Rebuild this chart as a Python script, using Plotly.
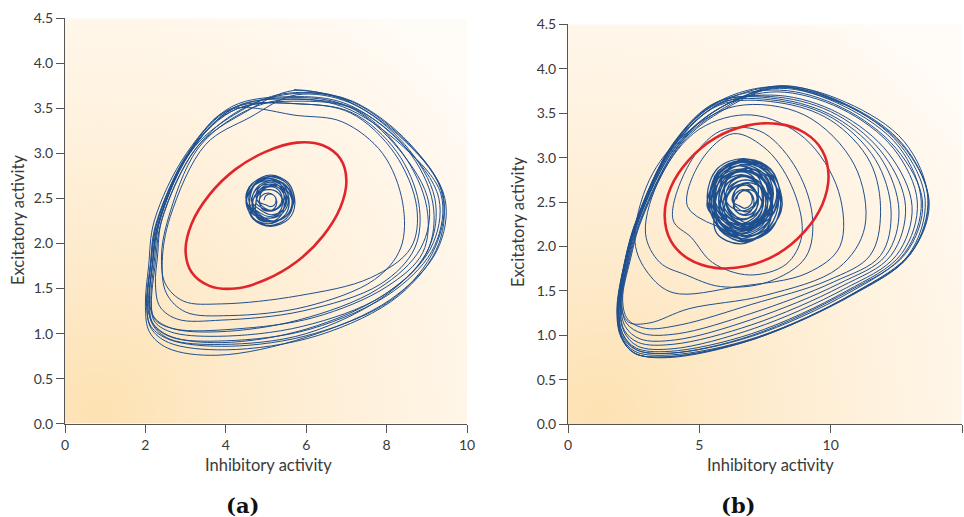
import base64
import plotly.graph_objects as go

# ---------------- data ----------------
y_ticks = [0.0, 0.5, 1.0, 1.5, 2.0, 2.5, 3.0, 3.5, 4.0, 4.5]
a_x_ticks = [0, 2, 4, 6, 8, 10]
b_x_ticks = [0, 5, 10, 15]

# panel (a): unstable cycle (red)
a_unstable = [(7.00, 2.70), (6.85, 2.40), (6.41, 2.08), (5.77, 1.80), (5.00, 1.60), (4.23, 1.50),
              (3.59, 1.53), (3.15, 1.68), (3.00, 1.92), (3.15, 2.22), (3.59, 2.54), (4.23, 2.82),
              (5.00, 3.02), (5.77, 3.12), (6.41, 3.09), (6.85, 2.94), (7.00, 2.70)]

# panel (a): stable focus tangle
a_focus = [
    [(4.95, 2.48), (4.99, 2.53), (5.10, 2.55), (5.21, 2.53), (5.25, 2.48), (5.21, 2.43), (5.10, 2.41), (4.99, 2.43)],
    [(4.83, 2.46), (4.89, 2.53), (5.05, 2.56), (5.21, 2.53), (5.27, 2.46), (5.21, 2.39), (5.05, 2.36), (4.89, 2.39)],
    [(4.84, 2.50), (4.92, 2.59), (5.12, 2.63), (5.32, 2.59), (5.40, 2.50), (5.32, 2.41), (5.12, 2.37), (4.92, 2.41)],
    [(4.75, 2.52), (4.85, 2.63), (5.10, 2.68), (5.35, 2.63), (5.45, 2.52), (5.35, 2.41), (5.10, 2.36), (4.85, 2.41)],
    [(4.75, 2.45), (4.85, 2.56), (5.08, 2.60), (5.31, 2.56), (5.41, 2.45), (5.31, 2.34), (5.08, 2.30), (4.85, 2.34)],
    [(4.65, 2.42), (4.77, 2.55), (5.05, 2.60), (5.33, 2.55), (5.45, 2.42), (5.33, 2.29), (5.05, 2.24), (4.77, 2.29)],
    [(4.76, 2.49), (4.87, 2.61), (5.14, 2.66), (5.41, 2.61), (5.52, 2.49), (5.41, 2.37), (5.14, 2.32), (4.87, 2.37)],
    [(4.64, 2.47), (4.76, 2.60), (5.06, 2.66), (5.36, 2.60), (5.48, 2.47), (5.36, 2.34), (5.06, 2.28), (4.76, 2.34)],
    [(4.75, 2.45), (4.88, 2.59), (5.20, 2.65), (5.52, 2.59), (5.65, 2.45), (5.52, 2.31), (5.20, 2.25), (4.88, 2.31)],
    [(4.67, 2.44), (4.80, 2.58), (5.12, 2.64), (5.44, 2.58), (5.57, 2.44), (5.44, 2.30), (5.12, 2.24), (4.80, 2.30)],
    [(4.50, 2.50), (4.64, 2.66), (5.00, 2.72), (5.36, 2.66), (5.50, 2.50), (5.36, 2.34), (5.00, 2.28), (4.64, 2.34)],
    [(4.60, 2.50), (4.74, 2.66), (5.08, 2.72), (5.42, 2.66), (5.56, 2.50), (5.42, 2.34), (5.08, 2.28), (4.74, 2.34)],
    [(4.65, 2.47), (4.79, 2.63), (5.15, 2.70), (5.51, 2.63), (5.65, 2.47), (5.51, 2.31), (5.15, 2.24), (4.79, 2.31)],
    [(4.52, 2.46), (4.67, 2.63), (5.05, 2.70), (5.43, 2.63), (5.58, 2.46), (5.43, 2.29), (5.05, 2.22), (4.67, 2.29)],
    [(4.60, 2.50), (4.76, 2.68), (5.15, 2.75), (5.54, 2.68), (5.70, 2.50), (5.54, 2.32), (5.15, 2.25), (4.76, 2.32)],
    [(4.57, 2.49), (4.73, 2.67), (5.12, 2.74), (5.51, 2.67), (5.67, 2.49), (5.51, 2.31), (5.12, 2.24), (4.73, 2.31)],
    [(4.52, 2.46), (4.69, 2.64), (5.10, 2.72), (5.51, 2.64), (5.68, 2.46), (5.51, 2.28), (5.10, 2.20), (4.69, 2.28)],
    [(4.50, 2.47), (4.68, 2.67), (5.12, 2.76), (5.56, 2.67), (5.72, 2.45), (5.56, 2.27), (5.12, 2.19), (4.68, 2.27), (4.50, 2.47)],
]

# panel (a): stable limit cycle loops (each starts at its top)
a_cycle = [
    [(5.70, 3.71), (7.15, 3.58), (8.55, 3.12), (9.45, 2.50), (9.25, 1.92), (8.10, 1.38), (6.00, 0.96), (3.80, 0.76), (2.55, 0.84), (2.10, 1.02), (2.00, 1.30), (2.08, 1.75), (2.22, 2.25), (3.02, 3.00), (4.15, 3.52)],
    [(5.60, 3.63), (7.00, 3.55), (8.40, 3.10), (9.30, 2.50), (9.10, 1.95), (8.00, 1.45), (6.00, 1.05), (3.90, 0.90), (2.62, 0.97), (2.18, 1.12), (2.05, 1.33), (2.14, 1.77), (2.30, 2.25), (3.10, 3.02), (4.20, 3.50)],
    [(5.70, 3.62), (7.05, 3.52), (8.30, 3.05), (9.05, 2.45), (8.85, 1.95), (7.80, 1.50), (5.80, 1.15), (3.80, 1.02), (2.65, 1.06), (2.22, 1.18), (2.10, 1.36), (2.18, 1.78), (2.32, 2.22), (3.15, 3.05), (4.30, 3.50)],
    [(5.80, 3.55), (7.10, 3.45), (8.20, 3.00), (8.75, 2.40), (8.60, 1.95), (7.60, 1.62), (5.80, 1.42), (3.90, 1.33), (2.95, 1.36), (2.50, 1.55), (2.40, 1.85), (2.55, 2.25), (3.30, 3.05), (4.40, 3.45)],
    [(5.50, 3.60), (6.90, 3.52), (8.35, 3.10), (9.35, 2.55), (9.20, 1.98), (8.20, 1.48), (6.10, 1.05), (4.00, 0.92), (2.65, 0.96), (2.20, 1.10), (2.10, 1.32), (2.17, 1.76), (2.30, 2.20), (3.05, 2.98), (4.10, 3.46)],
    [(5.90, 3.58), (7.25, 3.48), (8.40, 3.00), (9.00, 2.40), (8.90, 1.90), (8.00, 1.52), (6.20, 1.18), (4.20, 1.05), (2.75, 1.05), (2.25, 1.15), (2.14, 1.32), (2.22, 1.80), (2.38, 2.28), (3.20, 3.06), (4.40, 3.48)],
    [(5.40, 3.66), (6.80, 3.62), (8.30, 3.20), (9.35, 2.60), (9.30, 2.00), (8.30, 1.42), (6.30, 0.98), (4.00, 0.82), (2.58, 0.90), (2.14, 1.06), (2.04, 1.28), (2.12, 1.74), (2.25, 2.20), (3.00, 2.95), (4.05, 3.48)],
    [(5.80, 3.42), (6.90, 3.35), (7.90, 3.00), (8.40, 2.45), (8.35, 1.95), (7.70, 1.60), (6.00, 1.30), (4.10, 1.20), (3.00, 1.24), (2.52, 1.45), (2.42, 1.80), (2.62, 2.30), (3.50, 3.10), (4.60, 3.40)],
    [(5.75, 3.65), (7.10, 3.56), (8.45, 3.10), (9.20, 2.50), (9.05, 1.95), (8.05, 1.45), (6.00, 1.00), (3.90, 0.88), (2.60, 0.94), (2.18, 1.10), (2.08, 1.33), (2.18, 1.78), (2.35, 2.25), (3.10, 3.00), (4.25, 3.52)],
    [(5.80, 3.60), (7.20, 3.50), (8.50, 3.05), (9.15, 2.45), (9.00, 1.90), (7.90, 1.42), (5.90, 1.08), (3.80, 0.97), (2.62, 1.02), (2.22, 1.14), (2.15, 1.33), (2.25, 1.79), (2.40, 2.25), (3.25, 3.05), (4.35, 3.48)],
    [(5.60, 3.66), (7.00, 3.60), (8.45, 3.15), (9.40, 2.55), (9.20, 1.95), (8.20, 1.40), (6.20, 1.00), (4.10, 0.86), (2.62, 0.93), (2.14, 1.08), (2.03, 1.30), (2.12, 1.75), (2.28, 2.22), (3.05, 3.00), (4.15, 3.50)],
    [(5.85, 3.55), (7.15, 3.45), (8.25, 3.02), (8.80, 2.45), (8.70, 1.95), (7.85, 1.55), (5.90, 1.25), (3.90, 1.15), (2.80, 1.16), (2.36, 1.30), (2.25, 1.55), (2.30, 1.85), (2.42, 2.28), (3.30, 3.08), (4.45, 3.45)],
    [(5.70, 3.70), (7.10, 3.58)],
]

# panel (b): unstable cycle (red)
b_unstable = [(9.92, 2.79), (9.68, 2.47), (9.01, 2.17), (8.00, 1.92), (6.80, 1.78), (5.60, 1.76),
              (4.59, 1.86), (3.92, 2.06), (3.68, 2.35), (3.92, 2.67), (4.59, 2.97), (5.60, 3.22),
              (6.80, 3.36), (8.00, 3.38), (9.01, 3.28), (9.68, 3.08), (9.92, 2.79)]

# panel (b): focus tangle
b_focus = [
    [(6.42, 2.53), (6.51, 2.60), (6.72, 2.63), (6.93, 2.60), (7.02, 2.53), (6.93, 2.46), (6.72, 2.43), (6.51, 2.46)],
    [(6.28, 2.50), (6.40, 2.60), (6.68, 2.64), (6.96, 2.60), (7.08, 2.50), (6.96, 2.40), (6.68, 2.36), (6.40, 2.40)],
    [(6.30, 2.55), (6.43, 2.66), (6.75, 2.71), (7.07, 2.66), (7.20, 2.55), (7.07, 2.44), (6.75, 2.39), (6.43, 2.44)],
    [(6.25, 2.52), (6.39, 2.64), (6.75, 2.69), (7.11, 2.64), (7.25, 2.52), (7.11, 2.40), (6.75, 2.35), (6.39, 2.40)],
    [(6.30, 2.45), (6.46, 2.58), (6.85, 2.64), (7.24, 2.58), (7.40, 2.45), (7.24, 2.32), (6.85, 2.26), (6.46, 2.32)],
    [(6.02, 2.50), (6.19, 2.64), (6.62, 2.70), (7.05, 2.64), (7.22, 2.50), (7.05, 2.36), (6.62, 2.30), (6.19, 2.36)],
    [(5.95, 2.62), (6.14, 2.78), (6.60, 2.84), (7.06, 2.78), (7.25, 2.62), (7.06, 2.46), (6.60, 2.40), (6.14, 2.46)],
    [(6.00, 2.55), (6.20, 2.72), (6.70, 2.79), (7.20, 2.72), (7.40, 2.55), (7.20, 2.38), (6.70, 2.31), (6.20, 2.38)],
    [(6.03, 2.50), (6.25, 2.68), (6.78, 2.75), (7.31, 2.68), (7.53, 2.50), (7.31, 2.32), (6.78, 2.25), (6.25, 2.32)],
    [(5.85, 2.52), (6.08, 2.71), (6.65, 2.79), (7.22, 2.71), (7.45, 2.52), (7.22, 2.33), (6.65, 2.25), (6.08, 2.33)],
    [(5.90, 2.47), (6.15, 2.67), (6.75, 2.75), (7.35, 2.67), (7.60, 2.47), (7.35, 2.27), (6.75, 2.19), (6.15, 2.27)],
    [(5.95, 2.42), (6.21, 2.63), (6.85, 2.72), (7.49, 2.63), (7.75, 2.42), (7.49, 2.21), (6.85, 2.12), (6.21, 2.21)],
    [(5.80, 2.50), (6.06, 2.71), (6.70, 2.80), (7.34, 2.71), (7.60, 2.50), (7.34, 2.29), (6.70, 2.20), (6.06, 2.29)],
    [(5.55, 2.58), (5.83, 2.81), (6.50, 2.91), (7.17, 2.81), (7.45, 2.58), (7.17, 2.35), (6.50, 2.25), (5.83, 2.35)],
    [(5.85, 2.56), (6.13, 2.79), (6.80, 2.88), (7.47, 2.79), (7.75, 2.56), (7.47, 2.33), (6.80, 2.24), (6.13, 2.33)],
    [(5.75, 2.52), (6.04, 2.76), (6.75, 2.86), (7.46, 2.76), (7.75, 2.52), (7.46, 2.28), (6.75, 2.18), (6.04, 2.28)],
    [(5.60, 2.48), (5.89, 2.71), (6.60, 2.81), (7.31, 2.71), (7.60, 2.48), (7.31, 2.25), (6.60, 2.15), (5.89, 2.25)],
    [(5.53, 2.56), (5.83, 2.81), (6.58, 2.91), (7.33, 2.81), (7.63, 2.56), (7.33, 2.31), (6.58, 2.21), (5.83, 2.31)],
    [(5.52, 2.50), (5.84, 2.76), (6.62, 2.86), (7.40, 2.76), (7.72, 2.50), (7.40, 2.24), (6.62, 2.14), (5.84, 2.24)],
    [(5.60, 2.55), (5.92, 2.81), (6.70, 2.92), (7.48, 2.81), (7.80, 2.55), (7.48, 2.29), (6.70, 2.18), (5.92, 2.29)],
    [(5.75, 2.60), (6.08, 2.87), (6.90, 2.98), (7.72, 2.87), (8.05, 2.60), (7.72, 2.33), (6.90, 2.22), (6.08, 2.33)],
    [(5.47, 2.47), (5.80, 2.74), (6.62, 2.85), (7.44, 2.74), (7.77, 2.47), (7.44, 2.20), (6.62, 2.09), (5.80, 2.20)],
    [(5.55, 2.60), (5.90, 2.87), (6.75, 2.98), (7.60, 2.87), (7.95, 2.60), (7.60, 2.33), (6.75, 2.22), (5.90, 2.33)],
    [(5.58, 2.52), (5.93, 2.81), (6.80, 2.93), (7.67, 2.81), (8.02, 2.52), (7.67, 2.23), (6.80, 2.11), (5.93, 2.23)],
    [(5.42, 2.56), (5.72, 2.85), (6.58, 2.97), (7.42, 2.88), (7.82, 2.60), (7.48, 2.32), (6.62, 2.17), (5.78, 2.28)],
    [(5.30, 2.45), (5.66, 2.75), (6.55, 2.87), (7.44, 2.75), (7.80, 2.45), (7.44, 2.15), (6.55, 2.03), (5.66, 2.15)],
    [(5.60, 2.48), (5.96, 2.76), (6.85, 2.88), (7.74, 2.76), (8.10, 2.48), (7.74, 2.20), (6.85, 2.08), (5.96, 2.20)],
    [(5.38, 2.52), (5.70, 2.82), (6.60, 2.96), (7.55, 2.88), (7.98, 2.58), (7.60, 2.27), (6.68, 2.12), (5.78, 2.22)],
    [(5.38, 2.46), (5.78, 2.84), (6.72, 2.95), (7.66, 2.80), (8.02, 2.52), (7.62, 2.20), (6.68, 2.06), (5.80, 2.18)],
    [(5.45, 2.48), (5.80, 2.83), (6.80, 2.95), (7.80, 2.80), (8.15, 2.46), (7.72, 2.21), (6.75, 2.05), (5.85, 2.17)],
    [(5.30, 2.55), (5.70, 2.88), (6.70, 2.99), (7.75, 2.85), (8.10, 2.50), (7.70, 2.18), (6.75, 2.07), (5.75, 2.22)],
]
# panel (b): loops spiralling out from the focus towards the limit cycle
b_transient = [
    [(4.55, 2.45), (5.10, 2.98), (6.30, 3.27), (7.60, 3.08), (8.60, 2.62), (8.90, 2.12), (8.30, 1.80), (6.90, 1.68), (5.50, 1.82), (4.70, 2.10)],
    [(4.00, 2.30), (4.60, 2.92), (5.80, 3.30), (7.30, 3.30), (8.60, 2.92), (9.30, 2.35), (9.05, 1.88), (7.60, 1.60), (5.80, 1.55), (4.50, 1.68), (3.50, 1.82)],
    [(2.95, 2.15), (3.55, 2.80), (5.00, 3.32), (7.00, 3.48), (9.00, 3.22), (10.30, 2.62), (10.35, 2.00), (9.10, 1.70), (6.50, 1.55), (4.00, 1.48), (3.05, 1.70)],
    [(2.55, 2.05), (3.10, 2.75), (4.40, 3.25), (6.40, 3.58), (9.00, 3.48), (10.90, 2.92), (11.30, 2.22), (10.30, 1.76), (7.50, 1.45), (4.60, 1.30), (3.10, 1.14), (2.30, 1.15), (2.00, 1.38), (2.22, 1.84), (2.66, 2.30), (4.05, 3.14), (5.72, 3.60)],
]
# panel (b): limit cycle loops (each starts at its top)
b_cycle = [
    [(8.00, 3.80), (10.50, 3.60), (12.70, 3.15), (13.75, 2.50), (13.00, 1.90), (10.80, 1.45), (7.00, 0.95), (3.80, 0.75), (2.55, 0.80), (2.02, 0.98), (1.86, 1.28), (2.12, 1.78), (2.60, 2.30), (4.00, 3.15), (5.70, 3.62)],
    [(8.05, 3.76), (10.45, 3.56), (12.50, 3.10), (13.50, 2.50), (12.85, 1.92), (10.70, 1.50), (7.00, 1.00), (3.90, 0.80), (2.60, 0.84), (2.08, 1.02), (1.92, 1.30), (2.18, 1.80), (2.65, 2.32), (4.05, 3.15), (5.75, 3.60)],
    [(8.00, 3.70), (10.30, 3.50), (12.20, 3.05), (13.10, 2.45), (12.50, 1.90), (10.50, 1.52), (7.10, 1.08), (4.00, 0.85), (2.65, 0.88), (2.12, 1.05), (1.98, 1.33), (2.25, 1.82), (2.70, 2.30), (4.10, 3.12), (5.80, 3.56)],
    [(8.10, 3.80), (10.60, 3.62), (12.80, 3.18), (13.70, 2.55), (13.10, 1.95), (10.90, 1.48), (7.20, 0.98), (3.90, 0.78), (2.55, 0.82), (2.04, 0.99), (1.90, 1.27), (2.14, 1.78), (2.62, 2.30), (4.00, 3.16), (5.70, 3.63)],
    [(8.00, 3.66), (10.20, 3.45), (11.90, 3.00), (12.60, 2.40), (12.10, 1.90), (10.30, 1.58), (7.00, 1.18), (4.10, 0.95), (2.75, 0.96), (2.18, 1.10), (2.02, 1.36), (2.30, 1.84), (2.75, 2.30), (4.20, 3.14), (5.90, 3.58)],
    [(7.95, 3.74), (10.40, 3.55), (12.40, 3.10), (13.30, 2.50), (12.70, 1.92), (10.60, 1.50), (7.00, 1.02), (3.85, 0.82), (2.58, 0.86), (2.08, 1.02), (1.95, 1.30), (2.20, 1.80), (2.68, 2.30), (4.05, 3.13), (5.75, 3.59)],
    [(8.00, 3.62), (10.00, 3.42), (11.50, 2.95), (11.90, 2.38), (11.50, 1.90), (9.90, 1.62), (7.00, 1.35), (4.30, 1.12), (2.95, 1.08), (2.28, 1.18), (2.08, 1.40), (2.38, 1.86), (2.80, 2.30), (4.30, 3.15), (6.00, 3.55)],
    [(8.00, 3.79), (10.55, 3.60), (12.65, 3.14), (13.60, 2.52), (12.95, 1.90), (10.80, 1.46), (7.10, 0.96), (3.80, 0.76), (2.52, 0.80), (2.03, 0.98), (1.88, 1.27), (2.12, 1.77), (2.60, 2.28), (4.00, 3.14), (5.65, 3.62)],
    [(8.00, 3.68), (10.25, 3.48), (12.05, 3.02), (12.85, 2.45), (12.30, 1.90), (10.40, 1.55), (7.00, 1.12), (4.00, 0.90), (2.68, 0.92), (2.14, 1.06), (2.00, 1.33), (2.27, 1.83), (2.72, 2.32), (4.15, 3.15), (5.85, 3.57)],
    [(8.05, 3.78), (10.50, 3.58), (12.60, 3.12), (13.45, 2.50), (12.80, 1.92), (10.70, 1.48), (7.00, 0.99), (3.90, 0.80), (2.58, 0.84), (2.06, 1.00), (1.93, 1.29), (2.17, 1.79), (2.64, 2.30), (4.02, 3.15), (5.72, 3.61)],
    [(8.00, 3.64), (10.10, 3.44), (11.70, 2.98), (12.30, 2.40), (11.90, 1.90), (10.10, 1.60), (7.00, 1.25), (4.20, 1.02), (2.85, 1.02), (2.22, 1.14), (2.05, 1.38), (2.33, 1.84), (2.78, 2.30), (4.25, 3.15), (5.95, 3.56)],
    [(8.02, 3.81), (10.52, 3.61), (12.72, 3.16), (13.72, 2.52), (13.02, 1.91), (10.82, 1.46), (7.02, 0.96), (3.82, 0.76), (2.53, 0.80), (2.03, 0.98), (1.88, 1.28), (2.13, 1.78), (2.62, 2.30), (4.02, 3.16), (5.72, 3.63)],
    [(8.00, 3.80), (10.50, 3.60)],
]

# ---------------- styling ----------------
BLUE = "#1e4f8e"
RED = "#e0262c"
AXIS = "#555555"
TXT = "#3a3a3a"
FONT = "Lato"


def flatten(loops):
    xs = [p[0] for loop in loops for p in loop]
    ys = [p[1] for loop in loops for p in loop]
    return xs, ys


def spline(color, width):
    return dict(color=color, width=width, shape="spline", smoothing=1.0)


fig = go.Figure()

# panel (a)
ax, ay = flatten(a_cycle)
fig.add_trace(go.Scatter(x=ax, y=ay, mode="lines", xaxis="x", yaxis="y", line=spline(BLUE, 1)))
fx, fy = flatten(a_focus)
fig.add_trace(go.Scatter(x=fx, y=fy, mode="lines", xaxis="x", yaxis="y", line=spline(BLUE, 1.1)))
fig.add_trace(go.Scatter(x=[p[0] for p in a_unstable], y=[p[1] for p in a_unstable], mode="lines",
                         xaxis="x", yaxis="y", line=spline(RED, 2.6)))

# panel (b)
bfx, bfy = flatten(b_focus)
fig.add_trace(go.Scatter(x=bfx, y=bfy, mode="lines", xaxis="x2", yaxis="y2", line=spline(BLUE, 1.25)))
bx, by = flatten([[b_focus[-1][-1]]] + b_transient + b_cycle)
fig.add_trace(go.Scatter(x=bx, y=by, mode="lines", xaxis="x2", yaxis="y2", line=spline(BLUE, 1)))
fig.add_trace(go.Scatter(x=[p[0] for p in b_unstable], y=[p[1] for p in b_unstable], mode="lines",
                         xaxis="x2", yaxis="y2", line=spline(RED, 2.6)))

# background gradient (warm, strongest at the lower-left corner)
svg = ("<svg xmlns='http://www.w3.org/2000/svg' width='400' height='400' preserveAspectRatio='none'>"
       "<defs><radialGradient id='g' cx='0.08' cy='0.97' r='1.25' gradientUnits='objectBoundingBox'>"
       "<stop offset='0' stop-color='#fde2b2'/>"
       "<stop offset='0.35' stop-color='#feecd0'/>"
       "<stop offset='0.7' stop-color='#fff5e6'/>"
       "<stop offset='1' stop-color='#fffcf8'/>"
       "</radialGradient></defs><rect width='400' height='400' fill='url(#g)'/></svg>")
src = "data:image/svg+xml;base64," + base64.b64encode(svg.encode()).decode()

axis_common = dict(showgrid=False, zeroline=False, showline=True, linecolor=AXIS, linewidth=1,
                   ticks="outside", ticklen=8, tickcolor=AXIS, tickwidth=1, automargin=False,
                   tickfont=dict(family=FONT, size=14, color=TXT), fixedrange=True)

W, H = 964, 517
fig.update_layout(
    width=W, height=H, margin=dict(l=0, r=0, t=0, b=0, autoexpand=False),
    paper_bgcolor="white", plot_bgcolor="rgba(0,0,0,0)", showlegend=False,
    xaxis=dict(domain=[65 / W, 467 / W], range=[0, 10], tickvals=a_x_ticks,
               ticktext=[str(v) for v in a_x_ticks], anchor="y", **axis_common),
    yaxis=dict(domain=[(H - 423.7) / H, (H - 18.3) / H], range=[0, 4.5], tickvals=y_ticks,
               ticktext=[f"{v:.1f}" for v in y_ticks], anchor="x", **axis_common),
    xaxis2=dict(domain=[568 / W, 962 / W], range=[0, 15], tickvals=b_x_ticks,
                ticktext=[str(v) for v in b_x_ticks], anchor="y2", **axis_common),
    yaxis2=dict(domain=[(H - 424.3) / H, (H - 24.3) / H], range=[0, 4.5], tickvals=y_ticks,
                ticktext=[f"{v:.1f}" for v in y_ticks], anchor="x2", **axis_common),
    images=[
        dict(source=src, xref="x", yref="y", x=0, y=4.5, sizex=10, sizey=4.5,
             sizing="stretch", layer="below", xanchor="left", yanchor="top"),
        dict(source=src, xref="x2", yref="y2", x=0, y=4.5, sizex=15, sizey=4.5,
             sizing="stretch", layer="below", xanchor="left", yanchor="top"),
    ],
)

label_font = dict(family=FONT, size=16.5, color=TXT)
cap_font = dict(family="DejaVu Serif", size=21, color="#111111", weight="bold")
ann = [
    dict(text="Inhibitory activity", x=268 / W, y=(H - 465) / H, font=label_font),
    dict(text="Inhibitory activity", x=770 / W, y=(H - 465) / H, font=label_font),
    dict(text="Excitatory activity", x=18 / W, y=(H - 220) / H, font=label_font, textangle=-90),
    dict(text="Excitatory activity", x=518 / W, y=(H - 222) / H, font=label_font, textangle=-90),
    dict(text="(a)", x=242 / W, y=(H - 505) / H, font=cap_font),
    dict(text="(b)", x=738 / W, y=(H - 505) / H, font=cap_font),
]
for a in ann:
    fig.add_annotation(xref="paper", yref="paper", showarrow=False,
                       xanchor="center", yanchor="middle", **a)

fig.write_html("out.html")
